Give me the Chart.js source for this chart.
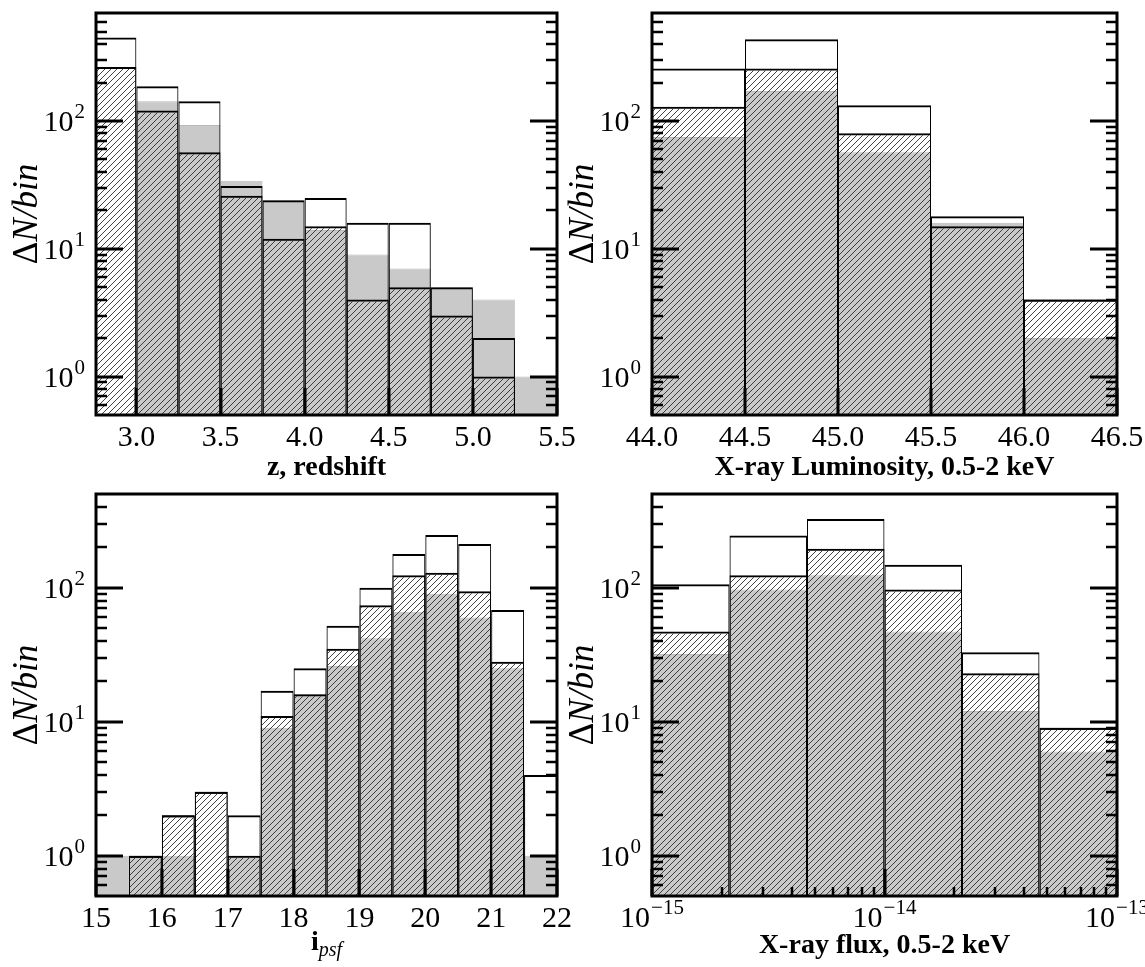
<!DOCTYPE html>
<html>
<head>
<meta charset="utf-8">
<script src="https://cdn.jsdelivr.net/npm/chart.js@4.4.0/dist/chart.umd.min.js"></script>
<style>
  html, body { margin: 0; padding: 0; background: #fff; }
  #wrap { position: relative; width: 1145px; height: 967px; overflow: hidden; background: #fff; }
  canvas { position: absolute; }
</style>
</head>
<body>
<div id="wrap">
  <canvas id="zChart" width="610" height="483" style="left:0;top:0"></canvas>
  <canvas id="magChart" width="610" height="484" style="left:0;top:483px"></canvas>
  <canvas id="lumChart" width="585" height="483" style="left:560px;top:0"></canvas>
  <canvas id="fluxChart" width="585" height="484" style="left:560px;top:483px"></canvas>
</div>
<script>
// redshift histogram (bin centres, width 0.25)
const zBins = [2.875, 3.125, 3.375, 3.625, 3.875, 4.125, 4.375, 4.625, 4.875, 5.125, 5.375];
const zAll = [450, 187, 143, 31, 24, 25, 16, 16, 5, 2, null];
const zHatched = [265, 121, 57, 26, 12, 15, 4, 5, 3, 1, null];
const zGray = [null, 143, 93, 34, 24, 14, 9, 7, 5, 4, 1];
const zTicks = [3.0, 3.5, 4.0, 4.5, 5.0, 5.5];
const zTickLabels = ['3.0', '3.5', '4.0', '4.5', '5.0', '5.5'];

// X-ray luminosity histogram (bin centres, width 0.5)
const lumBins = [44.25, 44.75, 45.25, 45.75, 46.25];
const lumAll = [257, 437, 133, 18, 4];
const lumHatched = [129, 257, 80, 15, 4];
const lumGray = [75, 172, 57, 16, 2];
const lumTicks = [44.0, 44.5, 45.0, 45.5, 46.0, 46.5];
const lumTickLabels = ['44.0', '44.5', '45.0', '45.5', '46.0', '46.5'];

// i_psf histogram (bin centres, width 0.5)
const magBins = [15.25, 15.75, 16.25, 16.75, 17.25, 17.75, 18.25, 18.75, 19.25, 19.75, 20.25, 20.75, 21.25, 21.75];
const magAll = [null, 1, 2, 3, 2, 17, 25, 52, 100, 178, 247, 212, 68, 4];
const magHatched = [null, 1, 2, 3, 1, 11, 16, 35, 74, 124, 129, 94, 28, null];
const magGray = [1, 1, 1, null, 1, 9, 16, 26, 42, 66, 90, 60, 25, 1];
const magTicks = [15, 16, 17, 18, 19, 20, 21, 22];
const magTickLabels = ['15', '16', '17', '18', '19', '20', '21', '22'];

// X-ray flux histogram (log bins, geometric centres)
const fluxBins = [1.468e-15, 3.162e-15, 6.813e-15, 1.468e-14, 3.162e-14, 6.813e-14];
const fluxAll = [106, 245, 326, 148, 33, 9];
const fluxHatched = [47, 124, 195, 97, 23, 9];
const fluxGray = [32, 97, 124, 47, 12, 6];
const fluxTicks = [1e-15, 1e-14, 1e-13];
const fluxTickLabels = ['10^\u221215', '10^\u221214', '10^\u221213'];

const yTicks = [1, 10, 100];
const yTickLabels = ['10^0', '10^1', '10^2'];

const FONT = '"Liberation Serif", "DejaVu Serif", serif';

function makeHatch(ctx) {
    const t = document.createElement('canvas');
    t.width = 6; t.height = 6;
    const g = t.getContext('2d');
    g.strokeStyle = '#2e2e2e';
    g.lineWidth = 0.9;
    g.beginPath();
    g.moveTo(0, 6); g.lineTo(6, 0);
    g.moveTo(-1, 1); g.lineTo(1, -1);
    g.moveTo(5, 7); g.lineTo(7, 5);
    g.stroke();
    return ctx.createPattern(t, 'repeat');
}

// minor ticks 2..9 x 10^n inside a log range
function logMinor(min, max) {
    const out = [];
    for (let e = Math.floor(Math.log10(min)) - 1; e <= Math.ceil(Math.log10(max)); e++) {
        for (let m = 2; m <= 9; m++) {
            const v = m * Math.pow(10, e);
            if (v > min * 1.0001 && v < max * 0.9999) out.push(v);
        }
    }
    return out;
}

// draws "10^2" style labels with a real superscript
function drawLabel(ctx, text, x, y, align, size) {
    const parts = text.split('^');
    const es = Math.round(size * 0.7);
    ctx.font = size + 'px ' + FONT;
    const wb = ctx.measureText(parts[0]).width;
    let we = 0;
    if (parts[1]) {
        ctx.font = es + 'px ' + FONT;
        we = ctx.measureText(parts[1]).width + 1;
    }
    const w = wb + we;
    const x0 = align === 'right' ? x - w : align === 'center' ? x - w / 2 : x;
    ctx.textAlign = 'left';
    ctx.textBaseline = 'alphabetic';
    ctx.font = size + 'px ' + FONT;
    ctx.fillText(parts[0], x0, y);
    if (parts[1]) {
        ctx.font = es + 'px ' + FONT;
        ctx.fillText(parts[1], x0 + wb + 1, y - size * 0.42);
    }
}

// "i_psf": bold base with italic subscript
function drawTitle(ctx, text, cx, y) {
    const parts = text.split('_');
    ctx.font = 'bold 28px ' + FONT;
    const wb = ctx.measureText(parts[0]).width;
    let ws = 0;
    if (parts[1]) {
        ctx.font = 'italic 20px ' + FONT;
        ws = ctx.measureText(parts[1]).width;
    }
    const x0 = cx - (wb + ws) / 2;
    ctx.textAlign = 'left';
    ctx.textBaseline = 'alphabetic';
    ctx.font = 'bold 28px ' + FONT;
    ctx.fillText(parts[0], x0, y);
    if (parts[1]) {
        ctx.font = 'italic 20px ' + FONT;
        ctx.fillText(parts[1], x0 + wb, y + 6);
    }
}

function makeDecor(id, d) {
    return {
        id: id,
        afterDatasetsDraw(chart) {
            const ctx = chart.ctx;
            const a = chart.chartArea;
            const xs = chart.scales.x, ys = chart.scales.y;
            ctx.save();
            ctx.strokeStyle = '#000';
            ctx.fillStyle = '#000';
            ctx.lineCap = 'butt';

            // minor ticks
            ctx.lineWidth = 2.5;
            ctx.beginPath();
            logMinor(ys.min, ys.max).forEach(v => {
                const p = Math.round(ys.getPixelForValue(v));
                ctx.moveTo(a.left, p); ctx.lineTo(a.left + 11, p);
                ctx.moveTo(a.right, p); ctx.lineTo(a.right - 11, p);
            });
            if (d.xLog) {
                logMinor(xs.min, xs.max).forEach(v => {
                    const p = Math.round(xs.getPixelForValue(v));
                    ctx.moveTo(p, a.bottom); ctx.lineTo(p, a.bottom - 9);
                });
            }
            ctx.stroke();

            // major ticks
            ctx.lineWidth = 3;
            ctx.beginPath();
            d.yTicks.forEach(v => {
                const p = Math.round(ys.getPixelForValue(v));
                ctx.moveTo(a.left, p); ctx.lineTo(a.left + 27, p);
                ctx.moveTo(a.right, p); ctx.lineTo(a.right - 27, p);
            });
            d.xTicks.forEach(v => {
                const p = Math.round(xs.getPixelForValue(v));
                ctx.moveTo(p, a.bottom); ctx.lineTo(p, a.bottom - 27);
            });
            ctx.stroke();

            // frame
            ctx.lineWidth = 3;
            ctx.strokeRect(a.left, a.top, a.right - a.left, a.bottom - a.top);

            // tick labels
            d.yTicks.forEach((v, i) => drawLabel(ctx, d.yLabels[i], a.left - 11, ys.getPixelForValue(v) + 10, 'right', 30));
            d.xTicks.forEach((v, i) => drawLabel(ctx, d.xLabels[i], xs.getPixelForValue(v), a.bottom + 31, 'center', 30));

            // axis titles
            drawTitle(ctx, d.xTitle, (a.left + a.right) / 2, d.xTitleY);

            ctx.translate(d.yTitleX, (a.top + a.bottom) / 2);
            ctx.rotate(-Math.PI / 2);
            ctx.font = '35px ' + FONT;
            const w1 = ctx.measureText('\u0394').width;
            ctx.font = 'italic 35px ' + FONT;
            const w2 = ctx.measureText('N/bin').width;
            ctx.textAlign = 'left';
            ctx.textBaseline = 'alphabetic';
            ctx.font = '35px ' + FONT;
            ctx.fillText('\u0394', -(w1 + w2) / 2, 12);
            ctx.font = 'italic 35px ' + FONT;
            ctx.fillText('N/bin', -(w1 + w2) / 2 + w1, 12);
            ctx.restore();
        }
    };
}

function histChart(canvasId, bins, all, hatched, gray, xScale, yMax, d, padding) {
    const ctx = document.getElementById(canvasId).getContext('2d');
    const hatch = makeHatch(ctx);
    const pts = arr => bins.map((b, i) => ({ x: b, y: arr[i] }));
    const common = { grouped: false, clip: 0, barPercentage: 1, categoryPercentage: 1, inflateAmount: 0, borderSkipped: false };
    return new Chart(ctx, {
        type: 'bar',
        data: {
            datasets: [
                Object.assign({ data: pts(all), backgroundColor: 'rgba(0,0,0,0)', borderColor: '#000',
                    borderWidth: { top: 2, left: 1, right: 1, bottom: 0 } }, common),
                Object.assign({ data: pts(hatched), backgroundColor: hatch, borderColor: '#000',
                    borderWidth: { top: 2, left: 1, right: 1, bottom: 0 } }, common),
                Object.assign({ data: pts(gray), backgroundColor: '#c9c9c9', borderColor: '#b8b8b8',
                    borderWidth: { top: 1, left: 0, right: 0, bottom: 0 } }, common)
            ]
        },
        options: {
            responsive: false,
            animation: false,
            devicePixelRatio: 1,
            events: [],
            layout: { padding: padding },
            plugins: { legend: { display: false }, tooltip: { enabled: false } },
            scales: {
                x: Object.assign({
                    display: false,
                    offset: false,
                    afterBuildTicks: s => { s.ticks = d.xTicks.map(v => ({ value: v })); }
                }, xScale),
                y: {
                    type: 'logarithmic',
                    display: false,
                    min: 0.5,
                    max: yMax,
                    afterBuildTicks: s => { s.ticks = d.yTicks.map(v => ({ value: v })); }
                }
            }
        },
        plugins: [makeDecor('decor_' + canvasId, d)]
    });
}

histChart('zChart', zBins, zAll, zHatched, zGray,
    { type: 'linear', min: 2.76, max: 5.5 }, 700,
    { xTicks: zTicks, xLabels: zTickLabels, yTicks: yTicks, yLabels: yTickLabels,
      xTitle: 'z, redshift', xTitleY: 475, yTitleX: 25 },
    { left: 96, top: 13, right: 53, bottom: 68 });

histChart('lumChart', lumBins, lumAll, lumHatched, lumGray,
    { type: 'linear', min: 44.0, max: 46.5 }, 700,
    { xTicks: lumTicks, xLabels: lumTickLabels, yTicks: yTicks, yLabels: yTickLabels,
      xTitle: 'X-ray Luminosity, 0.5-2 keV', xTitleY: 475, yTitleX: 21 },
    { left: 92, top: 13, right: 28, bottom: 68 });

histChart('magChart', magBins, magAll, magHatched, magGray,
    { type: 'linear', min: 15, max: 22 }, 500,
    { xTicks: magTicks, xLabels: magTickLabels, yTicks: yTicks, yLabels: yTickLabels,
      xTitle: 'i_psf', xTitleY: 467, yTitleX: 25 },
    { left: 96, top: 11, right: 53, bottom: 71 });

histChart('fluxChart', fluxBins, fluxAll, fluxHatched, fluxGray,
    { type: 'logarithmic', min: 1e-15, max: 1e-13 }, 500,
    { xTicks: fluxTicks, xLabels: fluxTickLabels, yTicks: yTicks, yLabels: yTickLabels,
      xTitle: 'X-ray flux, 0.5-2 keV', xTitleY: 470, yTitleX: 21, xLog: true },
    { left: 92, top: 11, right: 28, bottom: 71 });
</script>
</body>
</html>
